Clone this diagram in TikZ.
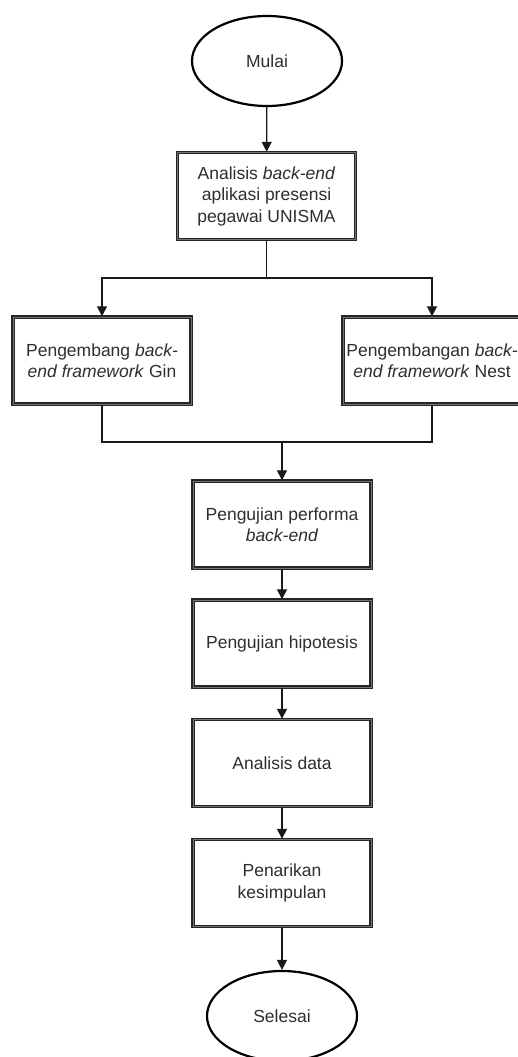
\documentclass[tikz,border=0pt]{standalone}
\usepackage{fontspec}
\setmainfont{Liberation Sans}
\usetikzlibrary{shapes.geometric,arrows.meta}
\definecolor{txt}{rgb}{0.18,0.18,0.18}
\begin{document}
\begin{tikzpicture}[x=1pt,y=-1pt,
  every node/.style={font=\fontsize{17.5}{21.5}\selectfont, text=txt},
  proc/.style={rectangle, draw=black!85, double=black!55, double distance=0.8pt, line width=1.4pt,
    minimum width=178pt, minimum height=87pt, align=center, inner sep=0pt},
  term/.style={ellipse, draw=black, line width=2.2pt, minimum width=150pt, minimum height=90pt, inner sep=0pt},
  arr/.style={-{Triangle[width=10pt,length=10pt]}, line width=1.3pt, draw=black!90},
  conn/.style={line width=1.3pt, draw=black!90}]
\clip (0,0) rectangle (518,1057);
\fill[white] (0,0) rectangle (518,1057);

\node[term] (mulai) at (267,61) {Mulai};
\node[proc] (a1) at (266.5,196) {Analisis \textit{back-end}\\aplikasi presensi\\pegawai UNISMA};
\node[proc] (gin) at (102,360.5) {Pengembang \textit{back-}\\\textit{end framework} Gin};
\node[proc] (nest) at (432,360.5) {Pengembangan \textit{back-}\\\textit{end framework} Nest};
\node[proc] (p1) at (282,524.5) {Pengujian performa\\\textit{back-end}};
\node[proc] (p2) at (282,643.5) {Pengujian hipotesis};
\node[proc] (p3) at (282,763) {Analisis data};
\node[proc] (p4) at (282,883) {Penarikan\\kesimpulan};
\node[term] (selesai) at (282,1016) {Selesai};

\coordinate (j1) at (266.5,278);
\coordinate (j2) at (282,442);

\draw[arr] (mulai) -- (a1);
\draw[conn] (a1.south) -- (j1);
\draw[arr] (j1) -| (gin);
\draw[arr] (j1) -| (nest);
\draw[conn] (gin.south) |- (j2);
\draw[conn] (nest.south) |- (j2);
\draw[arr] (j2) -- (p1);
\draw[arr] (p1) -- (p2);
\draw[arr] (p2) -- (p3);
\draw[arr] (p3) -- (p4);
\draw[arr] (p4) -- (selesai);
\end{tikzpicture}
\end{document}
